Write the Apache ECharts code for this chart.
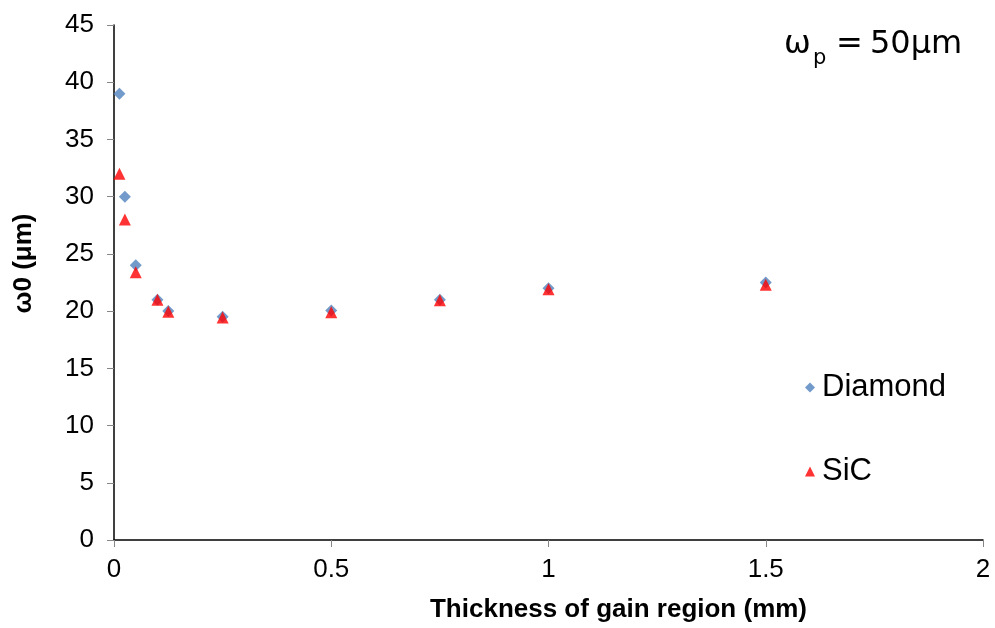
<!DOCTYPE html>
<html>
<head>
<meta charset="utf-8">
<script src="https://cdn.jsdelivr.net/npm/echarts@6/dist/echarts.min.js"></script>
<style>html,body{margin:0;padding:0;background:#fff}#c{width:995px;height:628px}</style>
</head>
<body>
<div id="c"></div>
<script>
var thickness = [0.0125, 0.025, 0.05, 0.1, 0.125, 0.25, 0.5, 0.75, 1.0, 1.5];
var diamond = [39.0, 30.0, 24.0, 21.0, 20.0, 19.5, 20.05, 21.0, 22.0, 22.5];
var sic = [32.0, 28.0, 23.4, 21.0, 19.95, 19.45, 19.9, 20.95, 21.9, 22.3];
var xTicks = [0, 0.5, 1, 1.5, 2];
var yTicks = [0, 5, 10, 15, 20, 25, 30, 35, 40, 45];

function pairs(xs, ys) { return xs.map(function (x, i) { return [x, ys[i]]; }); }

var chart = echarts.init(document.getElementById('c'));
chart.setOption({
  animation: false,
  backgroundColor: '#ffffff',
  grid: { left: 114, right: 12, top: 25, bottom: 86 },
  xAxis: {
    type: 'value', min: xTicks[0], max: xTicks[xTicks.length - 1], interval: 0.5,
    name: 'Thickness of gain region (mm)', nameLocation: 'middle', nameGap: 57,
    nameTextStyle: { fontFamily: 'Liberation Sans, Arial', fontWeight: 'bold', fontSize: 26, color: '#000', padding: [0, 0, 0, 140] },
    axisLine: { show: true, lineStyle: { color: '#000', width: 1.5 } },
    axisTick: { show: true, length: 7, lineStyle: { color: '#868686' } },
    axisLabel: { fontFamily: 'Liberation Sans, Arial', fontSize: 26, color: '#000', margin: 17 },
    splitLine: { show: false }
  },
  yAxis: {
    type: 'value', min: yTicks[0], max: yTicks[yTicks.length - 1], interval: 5,
    name: 'ω0 (μm)', nameLocation: 'middle', nameGap: 77, nameRotate: 90,
    nameTextStyle: { fontFamily: 'Liberation Sans, Arial', fontWeight: 'bold', fontSize: 26, color: '#000', padding: [0, 0, 0, 38] },
    axisLine: { show: true, lineStyle: { color: '#000', width: 1.5 } },
    axisTick: { show: true, length: 7, lineStyle: { color: '#868686' } },
    axisLabel: { fontFamily: 'Liberation Sans, Arial', fontSize: 26, color: '#000', margin: 20 },
    splitLine: { show: false }
  },
  legend: {
    orient: 'vertical', left: 800, top: 367, itemGap: 53,
    itemWidth: 10, itemHeight: 10,
    textStyle: { fontFamily: 'Liberation Sans, Arial', fontSize: 31, color: '#000', padding: [0, 0, 0, 2] },
    data: [{ name: 'Diamond', icon: 'diamond' }, { name: 'SiC', icon: 'triangle' }]
  },
  graphic: [
    { type: 'text', left: 784, top: 29, style: { text: 'ω', font: '32px "DejaVu Sans"', fill: '#000' } },
    { type: 'text', left: 813, top: 48, style: { text: 'p', font: '21px "DejaVu Sans"', fill: '#000' } },
    { type: 'text', left: 836, top: 29, style: { text: '=', font: '32px "DejaVu Sans"', fill: '#000' } },
    { type: 'text', left: 870, top: 29, style: { text: '50μm', font: '32px "DejaVu Sans"', fill: '#000' } }
  ],
  series: [
    { name: 'Diamond', type: 'scatter', symbol: 'diamond', symbolSize: 12,
      itemStyle: { color: '#4F81BD' }, data: pairs(thickness, diamond), z: 2 },
    { name: 'SiC', type: 'scatter', symbol: 'triangle', symbolSize: 12,
      itemStyle: { color: '#FF0000' }, data: pairs(thickness, sic), z: 3 }
  ]
});
</script>
</body>
</html>
